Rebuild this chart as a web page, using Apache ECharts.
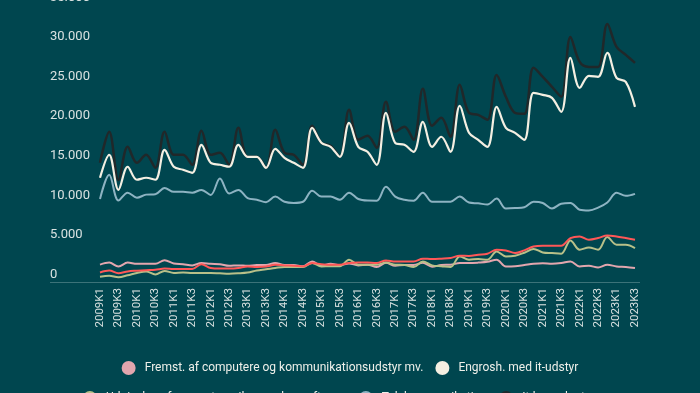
<!DOCTYPE html>
<html><head><meta charset="utf-8">
<script src="https://cdn.jsdelivr.net/npm/echarts@6/dist/echarts.min.js"></script>
<style>html,body{margin:0;padding:0;background:#00464f;}#c{width:700px;height:393px;}</style>
</head><body><div id="c"></div>
<script>
const categories = (function(){const a=[];for(let y=2009;y<=2023;y++){for(let q=1;q<=4;q++){if(y===2023&&q>3)break;a.push(y+'K'+q);}}return a;})();

const nameFremst = 'Fremst. af computere og kommunikationsudstyr mv.';
const nameEngros = 'Engrosh. med it-udstyr';
const nameSoftware = 'Udgivelse af computerspil og anden software';
const nameTele = 'Telekommunikation';
const nameKons = 'It-konsulenter mv.';

const fremst = [2200,2450,1950,2450,2300,2300,2300,2750,2350,2250,2100,2400,2300,2250,2050,2100,2050,2150,2150,2400,2150,2150,1980,2600,2060,2300,2100,2350,2100,2180,1890,2420,2060,2150,2150,2420,1930,2150,2180,2400,2400,2450,2550,2820,1970,2000,2150,2310,2380,2310,2400,2600,1970,2050,1840,2180,1970,1890,1770];
const engros = [13170,16070,11650,14560,12920,13170,12920,16700,14560,14180,13800,17330,15060,14810,14560,17330,15820,15820,14430,16830,15690,15060,14430,19480,17590,17080,15820,20100,17080,16450,14810,21380,17590,17330,16450,20240,17080,18350,16450,22260,18850,17970,17080,22130,19480,18850,17970,23900,23650,23270,21500,28320,24530,26050,25920,28950,25790,25290,22130];
const software = [650,790,600,850,1150,1340,950,1400,1150,1200,1140,1140,1150,1100,1050,1100,1200,1450,1600,1770,1900,1900,1900,2400,1970,2000,2000,2820,2180,2180,2180,2450,2180,2150,1890,2600,2100,2000,1900,3230,2820,2900,2820,3860,3230,3320,3700,4170,3740,3650,3570,5250,4080,4370,4080,5680,4710,4710,4290];
const tele = [10490,13540,10290,11290,10640,11040,11090,11890,11390,11390,11290,11640,10990,13090,11190,11640,10590,10390,10090,10790,10140,9990,10140,11540,10790,10790,10390,11290,10490,10290,10270,12040,10790,10390,10270,11290,10140,10140,10140,10790,10040,9940,9790,10540,9290,9340,9440,10140,9990,9290,9890,9990,9140,9040,9390,10040,11290,10890,11140];
const konsulent = [15060,18980,12900,17080,15060,16070,14430,18980,16070,16070,14810,19100,16070,16330,14810,19480,15820,15820,14430,19230,16330,16070,14810,19730,17590,17210,15820,21750,17970,18470,16960,22760,18980,19610,17970,24410,19730,20750,18350,24910,21380,21120,20490,26170,23400,21380,21250,27060,25920,24660,23400,30970,27810,27180,27180,32610,29710,28700,27690];
const redLine = [1210,1450,1100,1340,1430,1500,1550,1700,1640,1640,1640,2250,1770,1700,1700,1770,1970,1900,1950,2180,2100,2060,1970,2400,2250,2180,2180,2400,2470,2450,2400,2730,2600,2600,2600,2950,2900,2950,3030,3320,3300,3450,3570,4080,3990,3660,4000,4490,4580,4580,4580,5550,5760,5340,5550,5880,5760,5550,5340];

const yTicks = {min:0, max:35000, interval:5000};

function fmt(v){return String(v).replace(/\B(?=(\d{3})+(?!\d))/g,'.');}

const chart = echarts.init(document.getElementById('c'), null, {renderer:'canvas'});
const lineS = (name,data,color,w,z)=>({name,type:'line',data,smooth:0.35,symbol:'none',z,
  lineStyle:{color,width:w},itemStyle:{color},emphasis:{disabled:true}});
const legendText = {color:'#eef0ea',fontSize:12,fontFamily:'Roboto',lineHeight:18,padding:[0,0,0,4]};
chart.setOption({
  backgroundColor:'#00464f',
  animation:false,
  textStyle:{fontFamily:'Roboto'},
  grid:{left:100,right:65,top:5,bottom:111,outerBoundsMode:'none',containLabel:false},
  legend:[{
    data:[nameFremst,nameEngros],
    top:354,left:'center',icon:'circle',itemWidth:14,itemHeight:14,itemGap:12,textStyle:legendText
  },{
    data:[nameSoftware,nameTele,nameKons],
    top:384,left:'center',icon:'circle',itemWidth:14,itemHeight:14,itemGap:12,textStyle:legendText
  }],
  xAxis:{type:'category',data:categories,boundaryGap:false,
    axisLine:{show:false},axisTick:{show:false},
    axisLabel:{interval:1,rotate:90,color:'#d9e2e1',fontSize:11.5,margin:6,fontFamily:'Roboto'}},
  yAxis:{type:'value',min:yTicks.min,max:yTicks.max,interval:yTicks.interval,
    splitLine:{show:false},axisLine:{show:false},axisTick:{show:false},
    axisLabel:{color:'#d9e2e1',fontSize:13,align:'left',margin:50,verticalAlign:'bottom',padding:[0,0,1,0],formatter:fmt}},
  graphic:[{type:'line',shape:{x1:50,y1:282.5,x2:640,y2:282.5},style:{stroke:'#3c7379',lineWidth:1},z:1}],
  series:[
    lineS(nameFremst,fremst,'#e2a6ae',2,3),
    lineS(nameSoftware,software,'#b8c089',2,4),
    lineS('Øvrige',redLine,'#ff5757',2,5),
    lineS(nameTele,tele,'#8db3c2',2,3),
    lineS(nameEngros,engros,'#f4efe2',2.2,6),
    lineS(nameKons,konsulent,'#20282a',2.5,5)
  ]
});
</script></body></html>
